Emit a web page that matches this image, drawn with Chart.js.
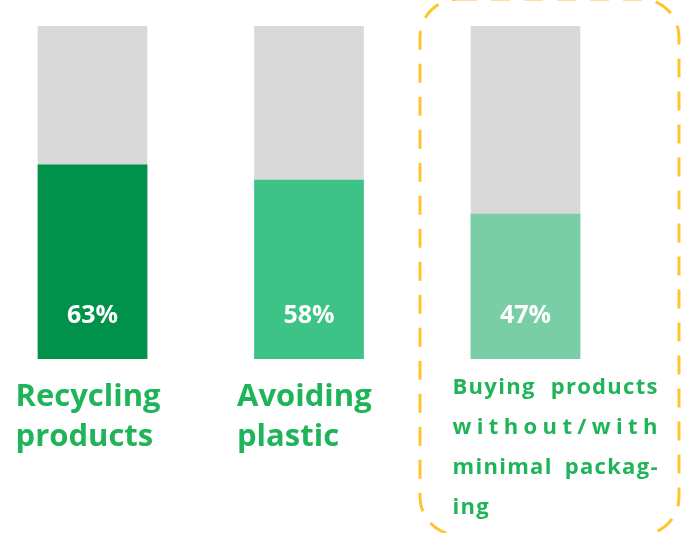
<!DOCTYPE html>
<html><head><meta charset="utf-8">
<script src="https://cdn.jsdelivr.net/npm/chart.js@4/dist/chart.umd.min.js"></script>
<style>html,body{margin:0;padding:0;background:#fff;}#wrap{position:relative;width:682px;height:533px;}</style>
</head><body><div id="wrap"><canvas id="c" width="682" height="533"></canvas></div>
<script>
const categories = [["Recycling","products"],["Avoiding","plastic"],["Buying products","without/with","minimal packag-","ing"]];
const values = [63, 58, 47];
const valueLabels = ["63%", "58%", "47%"];
const track = [108, 108, 108];
const barColors = ["#00924A", "#3CC385", "#79CDA7"];
const positions = [0, 1, 2];

const FONT = "'Open Sans', sans-serif";
const labelGreen = "#20B45A";

function justifyLine(ctx, text, x, y, w) {
  const ls = 1.3;
  const words = text.split(" ");
  const wordW = t => t.split("").reduce((s, c) => s + ctx.measureText(c).width, 0) + ls * (t.length - 1);
  const drawWord = (t, cx, extra) => {
    t.split("").forEach(c => { ctx.fillText(c, cx, y); cx += ctx.measureText(c).width + ls + extra; });
  };
  if (!w) { drawWord(text, x, 0); return; }
  if (words.length > 1) {
    const total = words.reduce((s, t) => s + wordW(t), 0);
    const gap = (w - total) / (words.length - 1);
    let cx = x;
    words.forEach(t => { drawWord(t, cx, 0); cx += wordW(t) + gap; });
  } else {
    const extra = (w - wordW(text)) / (text.length - 1);
    drawWord(text, x, extra);
  }
}

const overlay = {
  id: 'overlay',
  afterDraw(chart) {
    const ctx = chart.ctx;
    const xs = chart.scales.x, ys = chart.scales.y;
    ctx.save();
    ctx.fillStyle = "#fff";
    ctx.font = "700 25px " + FONT;
    ctx.textAlign = "center";
    ctx.textBaseline = "middle";
    positions.forEach((p, i) => {
      ctx.fillText(valueLabels[i], xs.getPixelForValue(p), ys.getPixelForValue(0) - 43);
    });
    ctx.fillStyle = labelGreen;
    ctx.textAlign = "left";
    ctx.textBaseline = "middle";
    ctx.font = "700 31px " + FONT;
    const base = ys.getPixelForValue(0);
    const indent = [-77, -72];
    [0, 1].forEach(i => {
      const x = xs.getPixelForValue(positions[i]) + indent[i];
      categories[i].forEach((line, k) => ctx.fillText(line, x, base + 38 + k * 40));
    });
    ctx.font = "700 22px " + FONT;
    const x3 = xs.getPixelForValue(positions[2]) - 73;
    const lines = categories[2];
    lines.forEach((line, k) => {
      const y = base + 29 + k * 40;
      justifyLine(ctx, line, x3, y, k < lines.length - 1 ? 205 : 0);
    });
    ctx.strokeStyle = "#FFC530";
    ctx.lineWidth = 3;
    ctx.setLineDash([19, 14]);
    ctx.beginPath();
    ctx.roundRect(420, -1, 259, 536, 38);
    ctx.stroke();
    ctx.restore();
  }
};

new Chart(document.getElementById('c'), {
  type: 'bar',
  data: {
    datasets: [
      { data: positions.map((p, i) => ({x: p, y: values[i]})), backgroundColor: barColors, grouped: false, order: 0, barThickness: 109 },
      { data: positions.map((p, i) => ({x: p, y: track[i]})), backgroundColor: "#D9D9D9", grouped: false, order: 1, barThickness: 109 }
    ]
  },
  options: {
    responsive: false,
    animation: false,
    layout: { padding: { top: 26, bottom: 174, left: 0, right: 0 } },
    plugins: { legend: { display: false }, tooltip: { enabled: false } },
    scales: {
      x: { type: 'linear', display: false, offset: false, min: -0.4273, max: 2.7229 },
      y: { display: false, min: 0, max: 108 }
    }
  },
  plugins: [overlay]
});
</script></body></html>
